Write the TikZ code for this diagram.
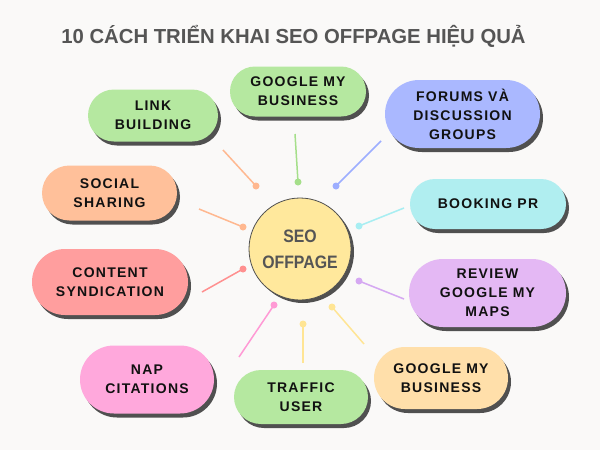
\documentclass[tikz,border=0pt]{standalone}
\usepackage{fontspec}
\usetikzlibrary{shapes.misc,shadows}
\newfontfamily\boxfont{Liberation Sans}[LetterSpace=9]
\newfontfamily\titlefont{Liberation Sans}
\newfontfamily\hubfont{Liberation Sans}[FakeStretch=0.88]
\definecolor{bg}{RGB}{250,249,248}
\definecolor{shade}{RGB}{80,80,80}
\definecolor{ink}{RGB}{17,17,17}
\definecolor{grayink}{RGB}{85,85,85}
\definecolor{cgreen}{RGB}{181,232,160}
\definecolor{cblue}{RGB}{170,184,255}
\definecolor{ccyan}{RGB}{176,238,240}
\definecolor{cpurple}{RGB}{228,184,244}
\definecolor{cpeach}{RGB}{255,223,170}
\definecolor{cpink}{RGB}{255,168,220}
\definecolor{cred}{RGB}{255,158,158}
\definecolor{corange}{RGB}{255,192,154}
\definecolor{cyellow}{RGB}{255,232,156}
\definecolor{lorange}{RGB}{255,184,144}
\definecolor{lgreen}{RGB}{165,223,138}
\definecolor{lblue}{RGB}{157,174,255}
\definecolor{lcyan}{RGB}{168,238,242}
\definecolor{lpurple}{RGB}{213,168,242}
\definecolor{lpink}{RGB}{255,154,213}
\definecolor{lred}{RGB}{255,144,144}
\definecolor{lyellow}{RGB}{255,229,148}
\tikzset{
  pill/.style={rounded rectangle, inner sep=0pt, align=center, text=ink,
    font=\boxfont\bfseries\fontsize{14}{19}\selectfont,
    drop shadow={shadow xshift=3pt, shadow yshift=-4pt, fill=shade, opacity=1}},
  hub/.style={circle, inner sep=0pt, minimum size=102pt, fill=cyellow, draw=shade, line width=0.8pt,
    align=center, text=grayink, font=\hubfont\bfseries\fontsize{18}{26}\selectfont,
    drop shadow={shadow xshift=3pt, shadow yshift=-3pt, fill=shade, opacity=1}},
  dotmark/.style={circle, inner sep=0pt, minimum size=7pt},
  link/.style={line width=1.5pt}
}
\begin{document}
\begin{tikzpicture}[x=1pt,y=-1pt]
\fill[bg] (0,0) rectangle (600,450);
\useasboundingbox (0,0) rectangle (600,450);
\node[text=grayink, font=\titlefont\bfseries\fontsize{20.3}{24}\selectfont] (title) at (293.5,36) {10 CÁCH TRIỂN KHAI SEO OFFPAGE HIỆU QUẢ};

% connectors
\coordinate (e1) at (223,150); \node[dotmark, fill=lorange] (d1) at (256,186) {};
\coordinate (e2) at (295,134); \node[dotmark, fill=lgreen] (d2) at (298,182) {};
\coordinate (e3) at (381,141); \node[dotmark, fill=lblue] (d3) at (336,186) {};
\coordinate (e4) at (199,209); \node[dotmark, fill=lorange] (d4) at (243,227) {};
\coordinate (e5) at (404,208); \node[dotmark, fill=lcyan] (d5) at (359,226) {};
\coordinate (e6) at (202,292); \node[dotmark, fill=lred] (d6) at (243,269) {};
\coordinate (e7) at (404,299); \node[dotmark, fill=lpurple] (d7) at (359,281) {};
\coordinate (e8) at (239,357); \node[dotmark, fill=lpink] (d8) at (274,305) {};
\coordinate (e9) at (303,363); \node[dotmark, fill=lyellow] (d9) at (303,324) {};
\coordinate (e10) at (364,344); \node[dotmark, fill=lyellow] (d10) at (332,307) {};
\draw[link, lorange] (e1) -- (d1.center);
\draw[link, lgreen] (e2) -- (d2.center);
\draw[link, lblue] (e3) -- (d3.center);
\draw[link, lorange] (e4) -- (d4.center);
\draw[link, lcyan] (e5) -- (d5.center);
\draw[link, lred] (e6) -- (d6.center);
\draw[link, lpurple] (e7) -- (d7.center);
\draw[link, lpink] (e8) -- (d8.center);
\draw[link, lyellow] (e9) -- (d9.center);
\draw[link, lyellow] (e10) -- (d10.center);

% hub
\node[hub] (hubn) at (300,249) {SEO\\OFFPAGE};

% pills
\node[pill, fill=cgreen, minimum width=130pt, minimum height=52pt] (lb) at (153,115.5) {LINK\\BUILDING};
\node[pill, fill=cgreen, minimum width=136pt, minimum height=50pt] (gmb1) at (298,91.5) {GOOGLE MY\\BUSINESS};
\node[pill, fill=cblue, minimum width=155pt, minimum height=68pt] (forum) at (462.5,114) {FORUMS VÀ\\DISCUSSION\\GROUPS};
\node[pill, fill=corange, minimum width=135pt, minimum height=55pt] (social) at (109.5,193) {SOCIAL\\SHARING};
\node[pill, fill=ccyan, minimum width=156pt, minimum height=50pt] (booking) at (488,204) {BOOKING PR};
\node[pill, fill=cred, minimum width=156pt, minimum height=66pt] (content) at (110,282) {CONTENT\\SYNDICATION};
\node[pill, fill=cpurple, minimum width=157pt, minimum height=68pt] (review) at (487.5,293) {REVIEW\\GOOGLE MY\\MAPS};
\node[pill, fill=cpink, minimum width=134pt, minimum height=68pt] (nap) at (147,379.5) {NAP\\CITATIONS};
\node[pill, fill=cgreen, minimum width=134pt, minimum height=54pt] (traffic) at (301,397) {TRAFFIC\\USER};
\node[pill, fill=cpeach, minimum width=134pt, minimum height=62pt] (gmb2) at (441,378) {GOOGLE MY\\BUSINESS};
\end{tikzpicture}
\end{document}
